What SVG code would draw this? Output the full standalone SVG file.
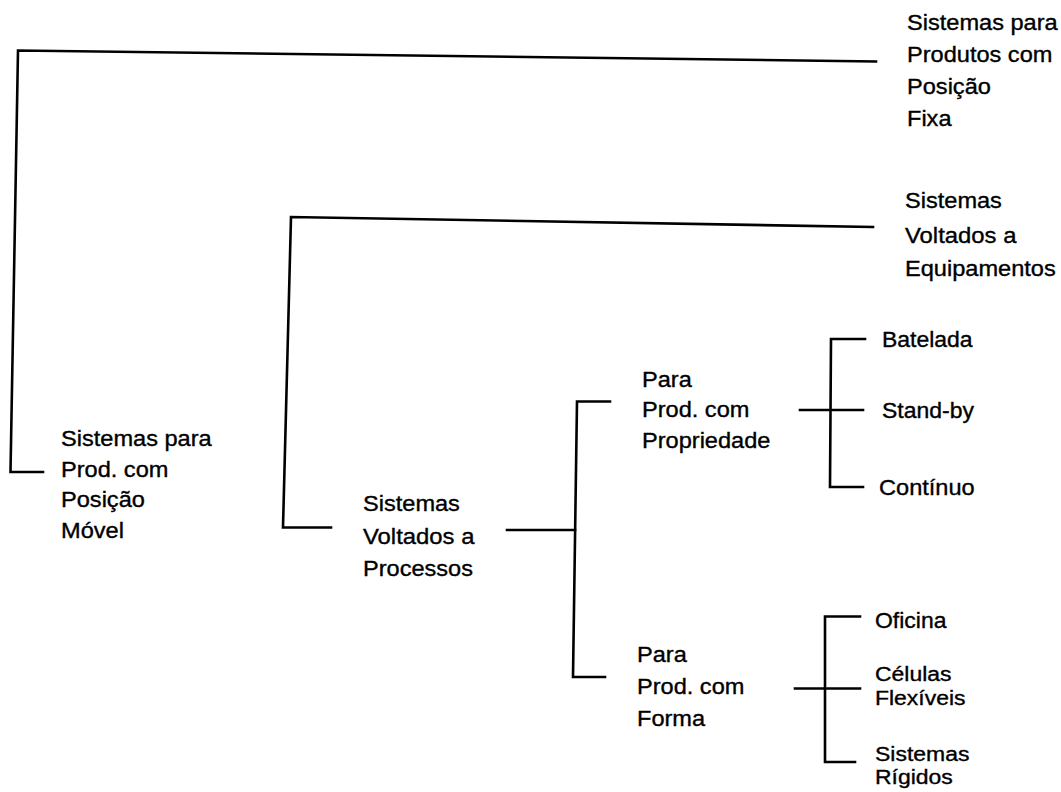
<svg xmlns="http://www.w3.org/2000/svg" width="1061" height="792" viewBox="0 0 1061 792">
<style>
.bg{fill:#fff}
.c{fill:none;stroke:#000;stroke-width:2.6;stroke-linecap:square;stroke-linejoin:miter}
.t{font-family:"Liberation Sans",Arial,Helvetica,sans-serif;font-size:21.5px;fill:#000;stroke:#000;stroke-width:0.35}
.s{font-size:20px}
</style>
<rect class="bg" x="0" y="0" width="1061" height="792"/>
<g id="connectors">
<polyline class="c" points="876,61.5 18,50.5 10.5,472 43,472"/>
<polyline class="c" points="873,227 291,217 283,527.5 331,527.5"/>
<line class="c" x1="507" y1="530" x2="575" y2="530"/>
<polyline class="c" points="610,401.5 577,401.5 573,677 605,677"/>
<line class="c" x1="800" y1="410" x2="863" y2="410"/>
<polyline class="c" points="865,339 831,339 830,487 863,487"/>
<line class="c" x1="795" y1="688.5" x2="860" y2="688.5"/>
<polyline class="c" points="860,616.5 825,616.5 825,762 855,762"/>
</g>
<g id="n-fixa">
<text class="t" x="907" y="30" textLength="150.7" lengthAdjust="spacingAndGlyphs">Sistemas para</text>
<text class="t" x="907" y="62" textLength="145.4" lengthAdjust="spacingAndGlyphs">Produtos com</text>
<text class="t" x="907" y="94" textLength="83.9" lengthAdjust="spacingAndGlyphs">Posição</text>
<text class="t" x="907" y="126" textLength="44.5" lengthAdjust="spacingAndGlyphs">Fixa</text>
</g>
<g id="n-equip">
<text class="t" x="905" y="208" textLength="96.9" lengthAdjust="spacingAndGlyphs">Sistemas</text>
<text class="t" x="905" y="243" textLength="111.4" lengthAdjust="spacingAndGlyphs">Voltados a</text>
<text class="t" x="905" y="276" textLength="150.7" lengthAdjust="spacingAndGlyphs">Equipamentos</text>
</g>
<g id="n-movel">
<text class="t" x="61" y="446" textLength="150.7" lengthAdjust="spacingAndGlyphs">Sistemas para</text>
<text class="t" x="61" y="477" textLength="107.4" lengthAdjust="spacingAndGlyphs">Prod. com</text>
<text class="t" x="61" y="507" textLength="83.9" lengthAdjust="spacingAndGlyphs">Posição</text>
<text class="t" x="61" y="538" textLength="62.9" lengthAdjust="spacingAndGlyphs">Móvel</text>
</g>
<g id="n-processos">
<text class="t" x="363" y="511" textLength="96.9" lengthAdjust="spacingAndGlyphs">Sistemas</text>
<text class="t" x="363" y="544" textLength="111.4" lengthAdjust="spacingAndGlyphs">Voltados a</text>
<text class="t" x="363" y="576" textLength="110" lengthAdjust="spacingAndGlyphs">Processos</text>
</g>
<g id="n-propriedade">
<text class="t" x="642" y="387" textLength="49.8" lengthAdjust="spacingAndGlyphs">Para</text>
<text class="t" x="642" y="417" textLength="107.4" lengthAdjust="spacingAndGlyphs">Prod. com</text>
<text class="t" x="642" y="448" textLength="128.4" lengthAdjust="spacingAndGlyphs">Propriedade</text>
</g>
<g id="n-forma">
<text class="t" x="637" y="662" textLength="49.8" lengthAdjust="spacingAndGlyphs">Para</text>
<text class="t" x="637" y="694" textLength="107.4" lengthAdjust="spacingAndGlyphs">Prod. com</text>
<text class="t" x="637" y="726" textLength="68.1" lengthAdjust="spacingAndGlyphs">Forma</text>
</g>
<g id="n-batelada"><text class="t" x="882" y="347" textLength="90.6" lengthAdjust="spacingAndGlyphs">Batelada</text></g>
<g id="n-standby"><text class="t" x="882" y="418" textLength="91.9" lengthAdjust="spacingAndGlyphs">Stand-by</text></g>
<g id="n-continuo"><text class="t" x="879" y="495" textLength="95.7" lengthAdjust="spacingAndGlyphs">Contínuo</text></g>
<g id="n-oficina"><text class="t" x="875" y="628" textLength="71.4" lengthAdjust="spacingAndGlyphs">Oficina</text></g>
<g id="n-celulas">
<text class="t s" x="875" y="681" textLength="76.5" lengthAdjust="spacingAndGlyphs">Células</text>
<text class="t s" x="875" y="705" textLength="90.5" lengthAdjust="spacingAndGlyphs">Flexíveis</text>
</g>
<g id="n-rigidos">
<text class="t s" x="875" y="761" textLength="94.4" lengthAdjust="spacingAndGlyphs">Sistemas</text>
<text class="t s" x="875" y="784" textLength="77.8" lengthAdjust="spacingAndGlyphs">Rígidos</text>
</g>
</svg>
